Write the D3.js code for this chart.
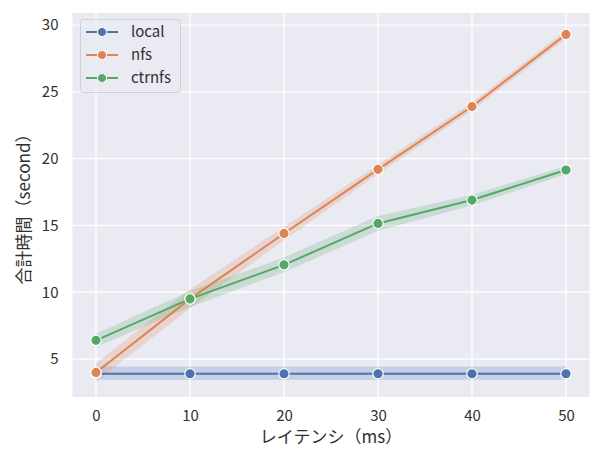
<!DOCTYPE html>
<html>
<head>
<meta charset="utf-8">
<script src="https://cdn.jsdelivr.net/npm/d3@7"></script>
<style>
  body { margin: 0; background: #fff; }
  text { font-family: "Noto Sans CJK JP", "Noto Sans", sans-serif; fill: #303030; }
</style>
</head>
<body>
<svg id="chart" width="591" height="450"></svg>
<script>
// latency (ms) on x, total time (s) on y
var latency = [0, 10, 20, 30, 40, 50];
var seriesNames = ["local", "nfs", "ctrnfs"];
var colors = ["#4c72b0", "#dd8452", "#55a868"];

var localMean = [3.9, 3.9, 3.9, 3.9, 3.9, 3.9];
var localLo   = [3.45, 3.45, 3.45, 3.45, 3.45, 3.45];
var localHi   = [4.45, 4.45, 4.45, 4.45, 4.45, 4.45];

var nfsMean = [4.0, 9.5, 14.4, 19.2, 23.9, 29.3];
var nfsLo   = [3.3, 8.8, 13.9, 18.85, 23.6, 29.0];
var nfsHi   = [4.7, 10.2, 14.9, 19.55, 24.2, 29.6];

var ctrMean = [6.4, 9.5, 12.05, 15.15, 16.9, 19.15];
var ctrLo   = [5.9, 8.9, 11.5, 14.6, 16.5, 18.85];
var ctrHi   = [6.9, 10.1, 12.6, 15.7, 17.3, 19.45];

var xTicks = [0, 10, 20, 30, 40, 50];
var yTicks = [5, 10, 15, 20, 25, 30];

var series = [
  {name: seriesNames[0], mean: localMean, lo: localLo, hi: localHi, color: colors[0]},
  {name: seriesNames[1], mean: nfsMean, lo: nfsLo, hi: nfsHi, color: colors[1]},
  {name: seriesNames[2], mean: ctrMean, lo: ctrLo, hi: ctrHi, color: colors[2]}
];

var pLeft = 72.5, pRight = 589.5, pTop = 13, pBottom = 397;

var x = d3.scaleLinear().domain([-2.5, 52.5]).range([pLeft, pRight]);
var y = d3.scaleLinear().domain([2.16, 30.9]).range([pBottom, pTop]);

var svg = d3.select("#chart");

svg.append("rect")
  .attr("x", pLeft).attr("y", pTop)
  .attr("width", pRight - pLeft).attr("height", pBottom - pTop)
  .attr("fill", "#eaeaf2");

// grid
var grid = svg.append("g");
grid.selectAll(".gx").data(xTicks).enter().append("line")
  .attr("x1", d => x(d)).attr("x2", d => x(d))
  .attr("y1", pTop).attr("y2", pBottom)
  .attr("stroke", "#fff").attr("stroke-width", 1.3);
grid.selectAll(".gy").data(yTicks).enter().append("line")
  .attr("x1", pLeft).attr("x2", pRight)
  .attr("y1", d => y(d)).attr("y2", d => y(d))
  .attr("stroke", "#fff").attr("stroke-width", 1.3);

// axes (no domain line, no tick marks)
var xAxis = svg.append("g").attr("transform", "translate(0," + pBottom + ")")
  .call(d3.axisBottom(x).tickValues(xTicks).tickSize(0).tickPadding(13));
var yAxis = svg.append("g").attr("transform", "translate(" + pLeft + ",0)")
  .call(d3.axisLeft(y).tickValues(yTicks).tickSize(0).tickPadding(14));
[xAxis, yAxis].forEach(function(a) {
  a.select(".domain").remove();
  a.selectAll("text").attr("font-size", 15).attr("fill", "#3a3a3a")
    .style("font-family", "'Noto Sans CJK JP', sans-serif");
});

// bands
var area = d3.area()
  .x((d, i) => x(latency[i]))
  .y0(d => y(d[0]))
  .y1(d => y(d[1]));
var line = d3.line()
  .x((d, i) => x(latency[i]))
  .y(d => y(d));

series.forEach(function(s) {
  svg.append("path")
    .datum(s.lo.map((v, i) => [v, s.hi[i]]))
    .attr("d", area)
    .attr("fill", s.color)
    .attr("fill-opacity", 0.22);
});

series.forEach(function(s) {
  svg.append("path")
    .datum(s.mean)
    .attr("d", line)
    .attr("fill", "none")
    .attr("stroke", s.color)
    .attr("stroke-width", 2);
  svg.append("g").selectAll("circle")
    .data(s.mean)
    .enter().append("circle")
    .attr("cx", (d, i) => x(latency[i]))
    .attr("cy", d => y(d))
    .attr("r", 5.2)
    .attr("fill", s.color)
    .attr("stroke", "#fff")
    .attr("stroke-width", 1.2);
});

// axis labels
svg.append("text")
  .attr("x", (pLeft + pRight) / 2).attr("y", 443)
  .attr("text-anchor", "middle")
  .attr("font-size", 17)
  .text("レイテンシ（ms）");
svg.append("text")
  .attr("transform", "translate(30," + ((pTop + pBottom) / 2) + ") rotate(-90)")
  .attr("text-anchor", "middle")
  .attr("font-size", 17)
  .text("合計時間（second）");

// legend
var legend = svg.append("g");
legend.append("rect")
  .attr("x", 80.5).attr("y", 19.5)
  .attr("width", 100).attr("height", 73)
  .attr("rx", 3)
  .attr("fill", "#eaeaf2").attr("fill-opacity", 0.8)
  .attr("stroke", "#d0d0d8");
series.forEach(function(s, i) {
  var ly = 32 + i * 23;
  legend.append("line")
    .attr("x1", 86).attr("x2", 118)
    .attr("y1", ly).attr("y2", ly)
    .attr("stroke", s.color).attr("stroke-width", 2);
  legend.append("circle")
    .attr("cx", 102).attr("cy", ly).attr("r", 4.5)
    .attr("fill", s.color).attr("stroke", "#fff").attr("stroke-width", 1);
  legend.append("text")
    .attr("x", 131).attr("y", ly + 5)
    .attr("font-size", 15)
    .text(s.name);
});
</script>
</body>
</html>
